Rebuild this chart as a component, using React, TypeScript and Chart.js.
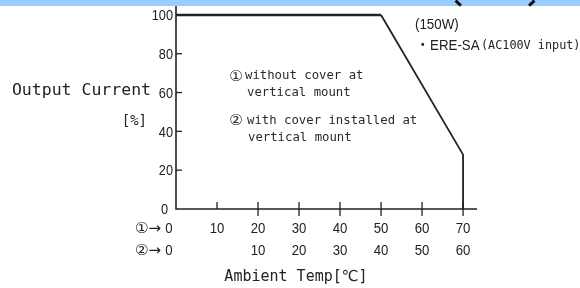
import React, { useEffect, useRef } from "react";
import { Chart, registerables } from "chart.js";

Chart.register(...registerables);

// ---- data ----
const tempPoints = [0, 50, 70, 70];
const currentPoints = [100, 100, 28, 0];
const yTickValues = [0, 20, 40, 60, 80, 100];
const yTickLabels = ["0", "20", "40", "60", "80", "100"];
const xTickValues = [0, 10, 20, 30, 40, 50, 60, 70];
const xLabelsRow1 = ["0", "10", "20", "30", "40", "50", "60", "70"];
const xLabelsRow2 = ["0", "", "10", "20", "30", "40", "50", "60"];
const rowMarks = ["①→", "②→"];
const yTitle = ["Output Current", "[%]"];
const xTitle = "Ambient Temp[℃]";
const noteMarks = ["①", "②"];
const noteLines = [
  ["without cover at", "vertical mount"],
  ["with cover installed at", "vertical mount"],
];
const modelTitle = "(150W)";
const modelName = "ERE-SA";
const modelInput = "(AC100V input)";

const INK = "#222222";
const NUM_FONT = "15px 'Liberation Sans', Arial, sans-serif";
const MONO = "'DejaVu Sans Mono', 'Liberation Mono', 'DejaVu Sans', monospace";

function squeezeText(ctx: any, text: string, x: number, y: number, sx: number) {
  ctx.save();
  ctx.translate(x, y);
  ctx.scale(sx, 1);
  ctx.fillText(text, 0, 0);
  ctx.restore();
}

const decorPlugin = {
  id: "decor",
  beforeDatasetsDraw(chart: any) {
    const ctx = chart.ctx;
    const xs = chart.scales.x;
    const ys = chart.scales.y;
    const x0 = xs.getPixelForValue(0);
    const y0 = ys.getPixelForValue(0);
    const area = chart.chartArea;
    ctx.save();
    // top band
    ctx.fillStyle = "#99ccff";
    ctx.fillRect(0, 0, chart.width, 6);
    ctx.strokeStyle = "#111";
    ctx.lineWidth = 3;
    const d = Math.PI / 180;
    ctx.beginPath();
    ctx.arc(495, -35, 53, 42 * d, 50 * d);
    ctx.stroke();
    ctx.beginPath();
    ctx.arc(495, -35, 53, 130 * d, 138 * d);
    ctx.stroke();

    // axes
    ctx.strokeStyle = INK;
    ctx.lineWidth = 1.6;
    ctx.beginPath();
    ctx.moveTo(x0, area.top);
    ctx.lineTo(x0, y0);
    ctx.lineTo(area.right, y0);
    ctx.stroke();

    // y ticks + labels
    ctx.lineWidth = 1.3;
    ctx.fillStyle = INK;
    ctx.font = NUM_FONT;
    ctx.textAlign = "right";
    ctx.textBaseline = "middle";
    yTickValues.forEach((v, i) => {
      const py = ys.getPixelForValue(v);
      if (v !== 0) {
        ctx.beginPath();
        ctx.moveTo(x0, py);
        ctx.lineTo(x0 + 6, py);
        ctx.stroke();
      }
      const lx = v === 0 ? x0 - 8 : x0 - 3;
      squeezeText(ctx, yTickLabels[i], lx, py + 1, 0.85);
    });

    // x ticks + labels
    ctx.textAlign = "center";
    xTickValues.forEach((v, i) => {
      const px = xs.getPixelForValue(v);
      if (v !== 0) {
        ctx.beginPath();
        ctx.moveTo(px, y0 - 7);
        ctx.lineTo(px, y0 + (v === 10 ? 0 : 7));
        ctx.stroke();
      }
      const lx = v === 0 ? px - 7 : px;
      squeezeText(ctx, xLabelsRow1[i], lx, 229, 0.88);
      if (xLabelsRow2[i]) squeezeText(ctx, xLabelsRow2[i], lx, 251, 0.88);
    });
    // row markers
    ctx.textAlign = "right";
    ctx.font = "15px 'DejaVu Sans', 'Noto Sans CJK JP', sans-serif";
    ctx.fillText(rowMarks[0], x0 - 15, 229);
    ctx.fillText(rowMarks[1], x0 - 15, 251);

    // axis titles
    ctx.font = "16.5px " + MONO;
    ctx.fillText(yTitle[0], 151, 91);
    ctx.font = "14px " + MONO;
    ctx.fillText(yTitle[1], 147, 121);
    ctx.textAlign = "center";
    ctx.font = "15px " + MONO;
    ctx.fillText(xTitle, 296, 277);

    // notes
    ctx.fillStyle = "#2a2a2a";
    ctx.font = "15px 'DejaVu Sans', 'Noto Sans CJK JP', sans-serif";
    ctx.textAlign = "center";
    ctx.fillText(noteMarks[0], 236, 77);
    ctx.fillText(noteMarks[1], 236, 121);
    ctx.textAlign = "left";
    ctx.font = "12.3px " + MONO;
    ctx.fillText(noteLines[0][0], 245, 76);
    ctx.fillText(noteLines[0][1], 247, 93);
    ctx.fillText(noteLines[1][0], 247, 121);
    ctx.fillText(noteLines[1][1], 248, 138);

    // model
    ctx.fillStyle = INK;
    ctx.font = "14.5px 'Liberation Sans', Arial, sans-serif";
    squeezeText(ctx, modelTitle, 415, 25, 0.92);
    ctx.font = "bold 10px 'Liberation Sans', Arial, sans-serif";
    ctx.fillText("•", 421, 45);
    ctx.font = "14.5px 'Liberation Sans', Arial, sans-serif";
    squeezeText(ctx, modelName, 430, 46, 0.92);
    ctx.font = "11.8px " + MONO;
    ctx.fillText(modelInput, 481, 46);
    ctx.restore();
  },
};

export default function App() {
  const ref = useRef<HTMLCanvasElement | null>(null);
  useEffect(() => {
    if (!ref.current) return;
    const chart = new Chart(ref.current, {
      type: "line",
      data: {
        labels: tempPoints,
        datasets: [
          {
            data: tempPoints.map((t, i) => ({ x: t, y: currentPoints[i] })),
            borderColor: INK,
            borderWidth: 2,
            pointRadius: 0,
            tension: 0,
            fill: false,
            clip: false as any,
            segment: {
              borderWidth: (c: any) => (c.p0DataIndex === 0 ? 2.6 : 1.8),
            },
          } as any,
        ],
      },
      options: {
        responsive: false,
        animation: false,
        devicePixelRatio: 1,
        layout: { padding: { left: 176, right: 103, top: 6, bottom: 79 } },
        scales: {
          x: { type: "linear", min: 0, max: 73.4, display: false },
          y: { type: "linear", min: 0, max: 104.6, display: false },
        },
        plugins: { legend: { display: false }, tooltip: { enabled: false } },
        events: [],
      },
      plugins: [decorPlugin],
    });
    return () => chart.destroy();
  }, []);
  return (
    <div style={{ position: "absolute", left: 0, top: 0, width: 580, height: 288, background: "#fff" }}>
      <canvas ref={ref} width={580} height={288} style={{ display: "block" }} />
    </div>
  );
}
